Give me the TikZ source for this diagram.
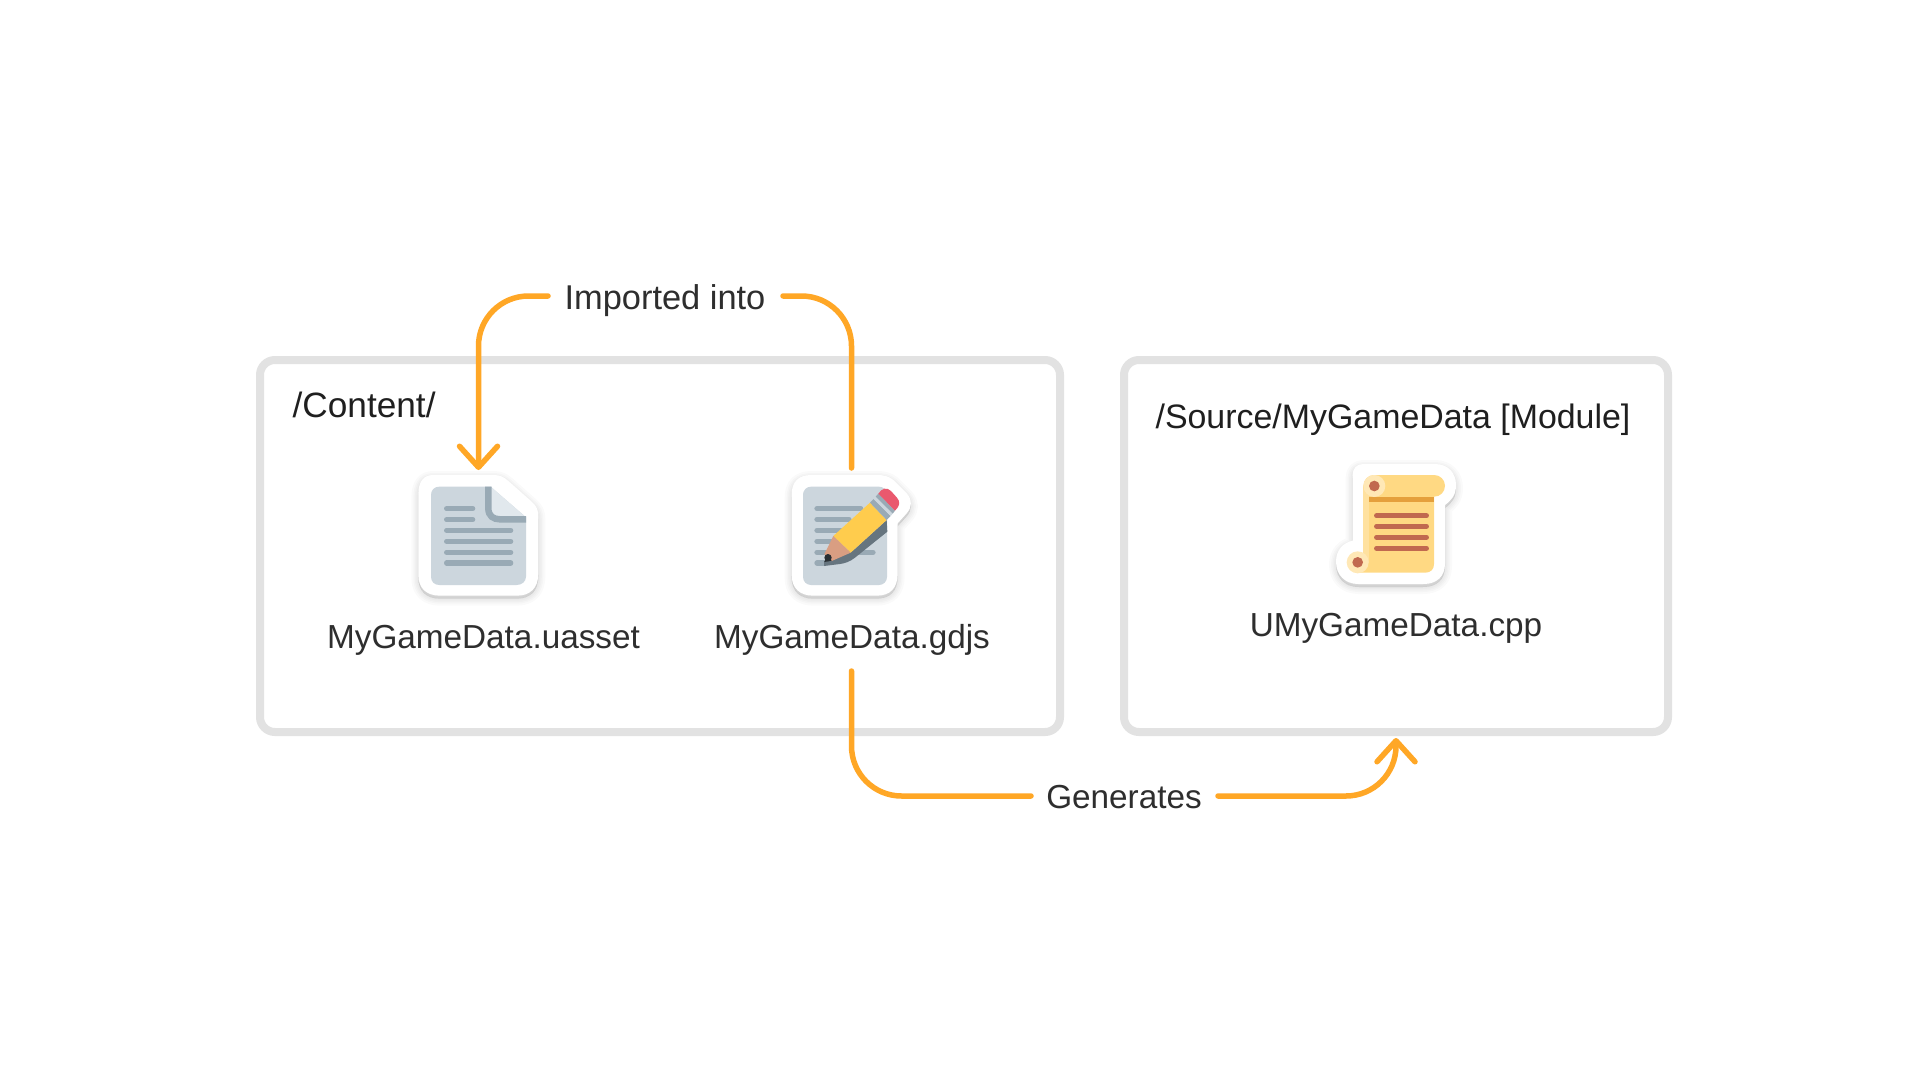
\documentclass[tikz,border=0pt]{standalone}
\usepackage{fontspec}
\setmainfont{Liberation Sans}
\usetikzlibrary{arrows.meta}
\definecolor{boxgray}{HTML}{E2E2E2}
\definecolor{flow}{HTML}{FFA726}
\definecolor{txt}{HTML}{2E2E2E}
\definecolor{paper}{HTML}{CCD6DD}
\definecolor{rule}{HTML}{99AAB5}
\definecolor{fold}{HTML}{E1E8ED}
\definecolor{scrollbody}{HTML}{FFD983}
\definecolor{scrolllight}{HTML}{FFE8B6}
\definecolor{scrollband}{HTML}{E5A03C}
\definecolor{scrollink}{HTML}{C1694F}
\definecolor{pencilside}{HTML}{66757F}
\definecolor{pencilbody}{HTML}{FFCC4D}
\definecolor{penciltip}{HTML}{D99E82}
\definecolor{pencillead}{HTML}{292F33}
\definecolor{pencilrub}{HTML}{EA596E}
\tikzset{
  x=1pt,y=-1pt,
  folder/.style={draw=boxgray,line width=8pt,rounded corners=15pt,fill=white},
  flowline/.style={draw=flow,line width=5.5pt,line cap=round,line join=round,rounded corners=50pt},
  flowarrow/.style={flowline,-{Straight Barb[round,length=21pt,width=38pt,line width=5.5pt]}},
  lbl/.style={text=txt,font=\fontsize{33.3}{40}\selectfont,anchor=base,inner sep=0pt},
  dirlbl/.style={lbl,text=black!88,font=\fontsize{33.9}{40}\selectfont},
  zoomed/.style={x=0.33333pt,y=-0.33333pt},
  txtrule/.style={line width=5.3pt,line cap=round},
}
\newcommand{\softshadow}[1]{%
  \foreach \w in {14,10,7,4,1}{%
    \path[draw=black,fill=black,opacity=0.018,line width=\w pt,line join=round,yshift=-3pt] #1;}}
\begin{document}
\begin{tikzpicture}
\useasboundingbox (0,0) rectangle (1928,1092);
\fill[white] (0,0) rectangle (1928,1092);
% folders
\draw[folder] (260,360) rectangle (1060,732);
\draw[folder] (1124,360) rectangle (1668,732);
% document icon
\begin{scope}[shift={(400,460)},zoomed]
  \def\outline{(100,45) -- (280,45) .. controls (300,45) and (310,50) .. (325,63) -- (395,125) .. controls (410,138) and (415,150) .. (415,170) -- (415,340) .. controls (415,385) and (390,407) .. (350,407) -- (120,407) .. controls (80,407) and (55,385) .. (55,345) -- (55,105) .. controls (55,65) and (70,45) .. (100,45) -- cycle}
  \softshadow{\outline}
  \fill[white] \outline;
  \fill[paper] (118,80) -- (272,80) -- (378,172) -- (378,350) .. controls (378,365) and (365,375) .. (350,375) -- (118,375) .. controls (103,375) and (93,365) .. (93,350) -- (93,105) .. controls (93,90) and (103,80) .. (118,80) -- cycle;
  \fill[fold] (272,80) -- (378,172) -- (300,172) .. controls (282,172) and (272,160) .. (272,145) -- cycle;
  \draw[rule,line width=6.5pt] (265,80) -- (265,145) .. controls (265,168) and (280,178) .. (300,178) -- (378,178);
  \foreach \y/\e in {146/226,179/226,211/340,244/340,277/340,309/340}
    \draw[rule,txtrule] (132+8,\y) -- (\e-8,\y);
\end{scope}
\coordinate (docicon) at (478.5,470);
% pencil icon
\begin{scope}[shift={(780,460)},zoomed]
  \def\outline{(95,45) -- (290,45) .. controls (310,45) and (325,48) .. (340,60) -- (380,100) .. controls (397,120) and (397,140) .. (380,160) -- (353,190) -- (353,340) .. controls (353,385) and (330,407) .. (290,407) -- (100,407) .. controls (60,407) and (35,385) .. (35,345) -- (35,105) .. controls (35,65) and (55,45) .. (95,45) -- cycle}
  \softshadow{\outline}
  \fill[white] \outline;
  \fill[paper,rounded corners=8pt] (69,80) rectangle (321,375);
  \foreach \y/\e in {146/250,178/215,211/190,244/165,277/287,309/140}
    \draw[rule,txtrule] (103+8,\y) -- (\e-8,\y);
  % shadow side of the pencil
  \fill[pencilside] (320,180) -- (322,215) -- (225,293) .. controls (210,305) and (195,310) .. (180,312) -- (132,318) -- (132,303) -- (212,278) -- cycle;
  % body
  \fill[pencilbody] (270,128) -- (320,180) -- (212,278) -- (160,228) -- cycle;
  \fill[penciltip] (160,228) -- (212,278) -- (155,303) -- (133,283) -- cycle;
  \fill[pencillead] (143,282) -- (155,302) -- (133,306) -- cycle;
  \fill[pencillead] (144,293) circle (11);
  % ferrule
  \fill[rule] (270,128) -- (320,180) -- (332,168) -- (281,117) -- cycle;
  \fill[paper] (281,117) -- (332,168) -- (338,161) -- (287,110) -- cycle;
  \fill[rule] (287,110) -- (338,161) -- (345,152) -- (295,101) -- cycle;
  % eraser
  \fill[pencilrub] (295,101) -- (345,152) .. controls (360,138) and (362,125) .. (350,112) -- (333,93) .. controls (320,80) and (305,85) .. (295,101) -- cycle;
\end{scope}
\coordinate (penicon) at (851.5,468);
\coordinate (penbelow) at (851.5,671);
% scroll icon
\begin{scope}[shift={(1320,450)},zoomed]
  \def\outline{(130,42) -- (345,42) .. controls (385,42) and (408,70) .. (408,105) .. controls (408,135) and (395,150) .. (375,165) -- (375,340) .. controls (375,380) and (350,402) .. (310,402) -- (115,402) .. controls (75,402) and (48,375) .. (48,335) .. controls (48,300) and (70,278) .. (98,272) -- (98,75) .. controls (98,55) and (110,42) .. (130,42) -- cycle}
  \softshadow{\outline}
  \fill[white] \outline;
  \fill[scrollbody] (130,110) -- (342,110) -- (342,342) .. controls (342,358) and (332,368) .. (316,368) -- (113,368) -- (113,337) -- (130,337) -- cycle;
  \fill[scrolllight!55!scrollbody] (130,108) rectangle (147,340);
  \fill[scrollband] (147,140) rectangle (342,156);
  \fill[scrollbody,rounded corners=10.8pt] (130,75) rectangle (375,140);
  \fill[scrolllight] (163,108) circle (33);
  \fill[scrollink] (163,108) circle (16);
  \fill[scrolllight] (113,337) circle (33);
  \fill[scrollink] (113,337) circle (16);
  \foreach \y in {197,229,262,295}
    \draw[scrollink,txtrule] (170,\y) -- (319,\y);
\end{scope}
\coordinate (scrollbox) at (1396,738);
% labels
\node[lbl,font=\fontsize{34.4}{40}\selectfont] (imported) at (665,309) {Imported into};
\node[lbl] (generates) at (1124,808) {Generates};
\node[dirlbl,anchor=base west,font=\fontsize{35.2}{40}\selectfont] (content) at (292.5,417) {/Content/};
\node[dirlbl] (source) at (1393,428) {/Source/MyGameData [Module]};
\node[lbl] (uasset) at (483.5,648) {MyGameData.uasset};
\node[lbl] (gdjs) at (852,648) {MyGameData.gdjs};
\node[lbl] (cpp) at (1396,636) {UMyGameData.cpp};
% connector ends next to the labels
\coordinate (il) at (548,296);
\coordinate (ir) at (783,296);
\coordinate (gl) at (1031,796);
\coordinate (gr) at (1218,796);
% connectors
\draw[flowarrow] (il) -| (docicon);
\draw[flowline] (ir) -| (penicon);
\draw[flowline] (penbelow) |- (gl);
\draw[flowarrow] (gr) -| (scrollbox);
\end{tikzpicture}
\end{document}
